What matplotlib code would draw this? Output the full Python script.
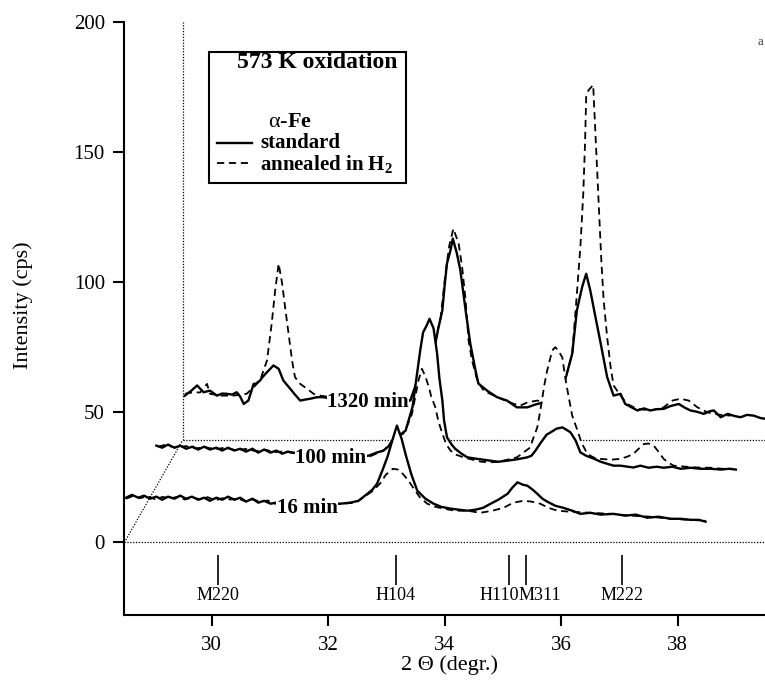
import numpy as np
import matplotlib.pyplot as plt
from matplotlib.patches import Rectangle

plt.rcParams['font.family'] = ['Liberation Serif', 'DejaVu Serif']
plt.rcParams['mathtext.fontset'] = 'custom'
plt.rcParams['mathtext.rm'] = 'Liberation Serif'
plt.rcParams['mathtext.it'] = 'Liberation Serif:italic'
plt.rcParams['mathtext.bf'] = 'Liberation Serif:bold'

# --- 16 min oxidation (front trace) ---
tt_16_std = [28.53, 28.63, 28.74, 28.84, 28.94, 29.05, 29.15, 29.25, 29.36, 29.46,
             29.56, 29.66, 29.77, 29.87, 29.97, 30.08, 30.18, 30.28, 30.39, 30.49,
             30.59, 30.70, 30.80, 30.90, 31.01, 31.11, 31.35, 31.69, 31.95,
             32.21, 32.38, 32.52, 32.65, 32.76, 32.84, 32.93, 33.02, 33.10, 33.18,
             33.26, 33.34, 33.43, 33.53, 33.67, 33.81, 33.94, 34.10, 34.24, 34.39,
             34.53, 34.66, 34.79, 34.92, 35.08, 35.16, 35.25, 35.34, 35.42, 35.51,
             35.59, 35.68, 35.76, 35.90, 36.04, 36.19, 36.33, 36.50, 36.68, 36.90,
             37.10, 37.28, 37.48, 37.67, 37.88, 38.05, 38.22, 38.36, 38.48]
cps_16_std = [17.2, 18.3, 17.2, 18.0, 16.8, 17.6, 16.4, 17.6, 16.8, 18.0,
              16.8, 17.6, 16.4, 17.2, 16.0, 17.2, 16.4, 17.6, 16.4, 17.2,
              15.7, 16.8, 15.3, 16.0, 14.9, 15.3, 14.9, 14.5, 14.9,
              14.9, 15.3, 16.0, 18.3, 20.3, 22.6, 27.6, 33.0, 39.1, 44.9,
              39.9, 33.0, 26.0, 19.9, 16.8, 14.9, 13.7, 13.0, 12.6, 12.2,
              12.6, 13.3, 14.9, 16.4, 18.7, 21.0, 23.1, 22.2, 21.8, 20.3,
              18.7, 16.8, 15.7, 14.1, 13.3, 12.2, 11.0, 11.4, 10.7, 11.0,
              10.3, 10.7, 9.5, 9.9, 9.1, 9.1, 8.7, 8.7, 8.0]
tt_16_h2 = [28.53, 28.65, 28.77, 28.90, 29.03, 29.16, 29.29, 29.42, 29.54, 29.67,
            29.80, 29.93, 30.06, 30.19, 30.32, 30.45, 30.58, 30.71, 30.83, 30.96,
            31.09, 31.52, 31.95, 32.26, 32.47, 32.65, 32.77, 32.89, 32.99, 33.11,
            33.20, 33.28, 33.38, 33.46, 33.58, 33.70, 33.84, 33.98, 34.18, 34.39,
            34.61, 34.82, 35.01, 35.18, 35.35, 35.49, 35.64, 35.78, 35.94, 36.16,
            36.50, 36.85, 37.19, 37.53, 37.88, 38.22, 38.48]
cps_16_h2 = [16.8, 17.9, 17.0, 17.8, 16.6, 17.5, 16.9, 17.6, 16.5, 17.3,
             16.6, 17.4, 16.2, 17.0, 16.5, 16.9, 15.8, 16.6, 15.6, 16.1,
             14.9, 14.5, 14.5, 14.9, 15.3, 18.0, 19.9, 22.6, 26.0, 28.3,
             28.0, 26.4, 23.7, 21.0, 17.2, 14.9, 13.7, 13.0, 12.2, 12.2,
             11.4, 12.2, 13.3, 15.3, 16.0, 15.7, 14.9, 13.3, 12.2, 11.8,
             11.4, 11.0, 10.3, 9.9, 9.1, 8.7, 8.3]

# --- 100 min oxidation ---
tt_100_std = [28.55, 28.65, 28.75, 28.86, 28.96, 29.06, 29.17, 29.27, 29.37, 29.47,
              29.58, 29.68, 29.78, 29.89, 29.99, 30.09, 30.20, 30.30, 30.40, 30.51,
              30.61, 30.71, 30.81, 30.90, 31.19, 31.54, 31.88, 32.19, 32.33, 32.45,
              32.53, 32.60, 32.70, 32.83, 32.89, 32.95, 33.01, 33.08, 33.13, 33.19,
              33.24, 33.31, 33.37, 33.41, 33.46, 33.49, 33.54, 33.62, 33.68, 33.79,
              33.89, 34.03, 34.16, 34.29, 34.42, 34.57, 34.70, 34.80, 34.92, 34.99,
              35.06, 35.14, 35.25, 35.32, 35.42, 35.52, 35.59, 35.66, 35.75, 35.83,
              35.93, 36.06, 36.18, 36.28, 36.40, 36.52, 36.64, 36.74, 36.86, 37.00,
              37.14, 37.26, 37.41, 37.55, 37.72, 37.89, 38.07, 38.24, 38.38, 38.50]
cps_100_std = [17.6, 16.8, 18.0, 16.8, 17.6, 16.4, 17.2, 16.1, 17.2, 16.1,
               16.8, 15.7, 16.8, 15.7, 16.4, 15.3, 16.4, 14.9, 16.1, 14.9,
               15.7, 14.5, 15.3, 14.9, 14.1, 13.7, 13.7, 13.7, 14.9, 15.7,
               17.2, 19.5, 21.1, 23.4, 28.0, 32.6, 42.6, 54.1, 61.1, 63.7,
               66.3, 62.6, 53.0, 43.4, 35.0, 27.2, 20.8, 18.0, 16.4, 14.5,
               13.1, 12.6, 12.2, 11.8, 11.4, 11.8, 12.2, 12.6, 13.1, 13.7,
               15.7, 18.4, 21.8, 22.7, 24.1, 24.6, 23.7, 22.7, 19.5, 15.0,
               13.7, 12.6, 11.4, 10.7, 9.9, 9.9, 9.5, 9.2, 9.9, 9.1,
               9.5, 9.1, 9.5, 8.7, 9.1, 8.7, 8.7, 8.4, 8.7, 8.4]
tt_100_h2 = [28.58, 28.70, 28.87, 29.06, 29.22, 29.39, 29.56, 29.73, 29.90, 30.09,
             30.25, 30.42, 30.59, 30.76, 30.90, 31.19, 31.54, 31.88, 32.22, 32.45,
             32.60, 32.70, 32.79, 32.88, 32.94, 33.00, 33.05, 33.11, 33.17, 33.23,
             33.27, 33.34, 33.39, 33.46, 33.53, 33.60, 33.70, 33.82, 33.98, 34.13,
             34.29, 34.42, 34.58, 34.74, 34.85, 34.97, 35.02, 35.09, 35.13, 35.17,
             35.21, 35.26, 35.32, 35.36, 35.40, 35.45, 35.52, 35.57, 35.63, 35.69,
             35.78, 35.85, 35.95, 36.06, 36.18, 36.35, 36.52, 36.64, 36.74, 36.83,
             36.92, 37.00, 37.09, 37.17, 37.26, 37.34, 37.43, 37.64, 37.84, 38.07,
             38.27, 38.46]
cps_100_h2 = [17.2, 17.9, 16.9, 17.4, 16.5, 17.0, 16.2, 16.8, 15.9, 16.3,
              15.5, 16.0, 15.1, 15.4, 14.7, 14.1, 13.7, 13.9, 13.5, 15.7,
              19.1, 21.1, 22.2, 26.4, 29.9, 36.8, 42.6, 47.1, 44.1, 40.0,
              36.4, 32.3, 27.2, 22.2, 18.0, 15.7, 14.1, 13.1, 12.2, 11.4,
              11.2, 11.4, 12.2, 13.1, 14.9, 16.9, 20.3, 24.6, 29.5, 34.9,
              40.7, 46.4, 51.8, 54.5, 55.4, 54.1, 51.5, 43.7, 36.2, 29.1,
              23.4, 18.7, 14.4, 13.0, 12.5, 12.2, 12.5, 13.4, 14.4, 16.4,
              18.2, 18.4, 17.6, 15.3, 12.5, 11.1, 9.9, 9.5, 9.2, 9.1,
              8.7, 8.7]

# --- 1320 min oxidation (back trace) ---
tt_1320_std = [28.54, 28.65, 28.75, 28.86, 28.97, 29.09, 29.18, 29.26, 29.35, 29.43,
               29.49, 29.55, 29.63, 29.72, 29.76, 29.83, 29.88, 29.95, 30.01, 30.06,
               30.15, 30.23, 30.35, 30.43, 30.52, 30.61, 30.69, 30.81, 30.92, 31.21,
               31.55, 31.89, 32.24, 32.41, 32.53, 32.62, 32.72, 32.84, 32.89, 32.96,
               33.00, 33.04, 33.10, 33.14, 33.21, 33.27, 33.36, 33.44, 33.53, 33.58,
               33.73, 33.90, 34.07, 34.24, 34.42, 34.56, 34.70, 34.82, 34.92, 35.05,
               35.19, 35.27, 35.36, 35.43, 35.50, 35.59, 35.68, 35.79, 35.90, 36.02,
               36.10, 36.31, 36.42, 36.53, 36.65, 36.76, 36.88, 37.02, 37.12, 37.22,
               37.33, 37.45, 37.55, 37.62, 37.74, 37.86, 37.97, 38.08, 38.19, 38.31,
               38.42, 38.51]
cps_1320_std = [17.2, 19.1, 21.1, 18.5, 19.1, 17.2, 18.0, 17.9, 17.6, 18.5,
                16.8, 14.0, 15.3, 21.7, 21.8, 23.0, 24.5, 26.2, 27.6, 28.8,
                27.5, 23.0, 19.8, 17.6, 15.3, 15.7, 16.0, 16.6, 16.6, 15.3,
                15.3, 15.3, 15.3, 15.3, 23.0, 30.7, 35.3, 37.1, 43.0, 49.9,
                59.5, 68.0, 73.0, 77.5, 71.8, 65.3, 49.9, 37.2, 26.8, 21.8,
                19.1, 16.6, 15.3, 12.7, 12.7, 13.8, 14.6, 16.1, 18.4, 21.7,
                33.3, 49.9, 58.9, 64.0, 57.6, 47.3, 37.1, 24.3, 17.2, 17.9,
                14.0, 11.5, 12.3, 11.5, 12.0, 12.1, 13.2, 14.0, 12.6, 11.5,
                11.0, 10.2, 11.2, 11.5, 8.9, 10.2, 9.4, 8.9, 9.8, 9.5,
                8.6, 8.3]
tt_1320_h2 = [28.54, 28.69, 28.80, 28.92, 28.97, 29.15, 29.37, 29.60, 29.72, 29.83,
              29.95, 30.03, 30.09, 30.15, 30.21, 30.26, 30.32, 30.38, 30.43, 30.52,
              30.64, 30.75, 30.86, 31.21, 31.72, 32.24, 32.41, 32.53, 32.62, 32.72,
              32.84, 32.93, 33.01, 33.08, 33.15, 33.24, 33.30, 33.36, 33.41, 33.47,
              33.56, 33.67, 33.90, 34.19, 34.30, 34.42, 34.59, 34.70, 34.85, 34.99,
              35.09, 35.19, 35.27, 35.33, 35.38, 35.41, 35.43, 35.47, 35.55, 35.57,
              35.61, 35.65, 35.69, 35.73, 35.79, 35.85, 35.90, 36.02, 36.13, 36.31,
              36.53, 36.76, 36.91, 37.05, 37.19, 37.34, 37.51, 37.70, 37.91]
cps_1320_h2 = [17.9, 18.5, 18.4, 21.7, 17.9, 17.2, 17.2, 17.9, 20.4, 23.0,
               30.7, 44.8, 57.6, 67.9, 60.2, 51.2, 41.0, 30.7, 24.3, 21.7,
               19.8, 17.9, 17.2, 16.1, 15.7, 15.3, 15.3, 22.2, 29.9, 35.7,
               38.4, 46.8, 63.4, 74.9, 81.3, 75.6, 66.6, 53.8, 38.4, 30.7,
               23.0, 19.1, 16.6, 14.0, 13.4, 14.6, 15.3, 14.6, 16.8, 19.9,
               24.9, 33.3, 56.3, 74.3, 94.8, 114.0, 132.0, 134.5, 136.5, 126.8,
               107.6, 88.4, 69.1, 53.8, 39.6, 28.1, 21.1, 17.2, 14.0, 12.1,
               11.5, 12.7, 15.3, 16.0, 15.3, 12.7, 10.8, 9.9, 9.5]

# reference reflections (magnetite M, hematite H)
refl_names = ['M220', 'H104', 'H110', 'M311', 'M222']
refl_2theta = [30.11, 33.16, 35.11, 35.40, 37.04]

DX_STEP = 0.5    # degrees shift per trace
DY_STEP = 19.6   # cps shift per trace
XMIN, XMAX = 28.5, 39.5

# (label, depth, std x, std y, H2 x, H2 y, label anchor in raw coords)
series = [
    ('1320 min', 2, tt_1320_std, cps_1320_std, tt_1320_h2, cps_1320_h2, (30.98, 13.0)),
    ('100 min', 1, tt_100_std, cps_100_std, tt_100_h2, cps_100_h2, (30.93, 10.8)),
    ('16 min', 0, tt_16_std, cps_16_std, tt_16_h2, cps_16_h2, (31.12, 11.2)),
]

fig = plt.figure(figsize=(7.65, 6.83), dpi=100)
ax = fig.add_axes([0.1625, 0.099, 0.8375, 0.8692])

for name, k, xs, ys, xd, yd, (lx, ly) in series:
    ox, oy = k * DX_STEP, k * DY_STEP
    z = 2 * (3 - k)
    xs = np.array(xs) + ox
    ys = np.array(ys) + oy
    xd = np.array(xd) + ox
    yd = np.array(yd) + oy
    # white fill below each trace hides whatever lies behind it
    ax.fill_between(xs, ys, oy, color='white', lw=0, zorder=z)
    ax.fill_between(xd, yd, oy, color='white', lw=0, zorder=z)
    ax.plot(xs, ys, color='black', lw=1.7, zorder=z + 1)
    ax.plot(xd, yd, color='black', lw=1.3, dashes=(4, 2.6), zorder=z + 1)
    ax.text(lx + ox, ly + oy, name, fontsize=15, fontweight='bold',
            ha='left', va='baseline', zorder=9,
            bbox=dict(facecolor='white', edgecolor='none', pad=0.3))

# pseudo-3D frame (dotted)
dot = dict(color='black', lw=0.9, ls=(0, (1, 1.3)))
back_x, back_y = XMIN + 2 * DX_STEP, 2 * DY_STEP
ax.plot([XMIN, XMAX], [0, 0], zorder=8, **dot)
ax.plot([XMIN, back_x], [0, back_y], zorder=8, **dot)
ax.plot([back_x, back_x], [back_y, 200], zorder=3.5, **dot)
ax.plot([back_x, XMAX], [back_y, back_y], zorder=3.5, **dot)

# reflection markers
ax.vlines(refl_2theta, -16.3, -4.8, color='black', lw=1.2)
for name, pos in zip(refl_names, refl_2theta):
    ha = 'center'
    if name == 'H110':
        ha, pos = 'right', 35.27
    elif name == 'M311':
        ha, pos = 'left', 35.27
    ax.text(pos, -22.1, name, fontsize=13, ha=ha, va='baseline')

# legend box
ax.add_patch(Rectangle((29.96, 138.1), 3.38, 50.3, fill=False, lw=1.5,
                       edgecolor='black', zorder=10))
ax.text(30.43, 182.1, '573 K oxidation', fontsize=17, fontweight='bold',
        va='baseline', zorder=11)
ax.text(30.97, 159.7, r'$\mathrm{\alpha}$-Fe', fontsize=16, fontweight='bold',
        va='baseline', zorder=11)
ax.plot([30.09, 30.69], [153.5, 153.5], color='black', lw=1.7, zorder=11)
ax.text(30.83, 151.4, 'standard', fontsize=15, fontweight='bold',
        va='baseline', zorder=11)
ax.plot([30.09, 30.69], [145.6, 145.6], color='black', lw=1.3,
        dashes=(4, 2.6), zorder=11)
ax.text(30.83, 143.1, r'annealed in H$_\mathbf{2}$', fontsize=15,
        fontweight='bold', va='baseline', zorder=11)

ax.set_xlim(XMIN, XMAX)
ax.set_ylim(-28, 200)
ax.set_xticks([30, 32, 34, 36, 38])
ax.set_yticks([0, 50, 100, 150, 200])
for s in ['top', 'right']:
    ax.spines[s].set_visible(False)
for s in ['left', 'bottom']:
    ax.spines[s].set_linewidth(1.5)
ax.tick_params(direction='out', length=8, width=1.5, labelsize=15)
ax.tick_params(axis='x', pad=7)
ax.tick_params(axis='y', pad=6)

ax.set_xlabel('2 \u0398 (degr.)', fontsize=16)
ax.xaxis.set_label_coords(0.508, -0.067)
ax.xaxis.label.set_va('top')
ax.set_ylabel('Intensity (cps)', fontsize=16)
ax.yaxis.set_label_coords(-0.1425, 0.523)

fig.text(757 / 765, 1 - 42 / 683, 'a', fontsize=9, color='#333333',
         ha='left', va='center')

fig.savefig('out.png', dpi=100)
